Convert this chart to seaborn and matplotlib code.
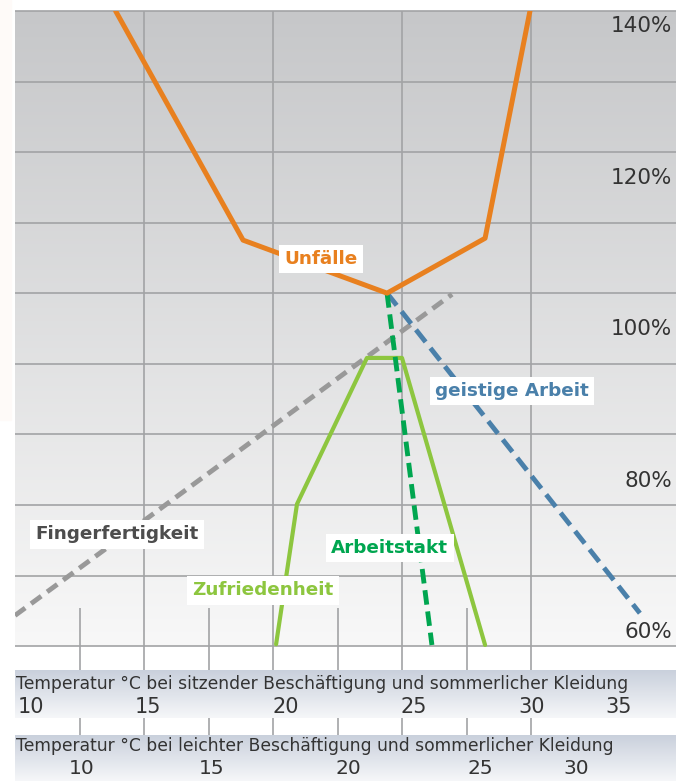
import matplotlib.pyplot as plt
import numpy as np
import seaborn as sns
from matplotlib.colors import to_rgb
from matplotlib.patches import Rectangle
from matplotlib.transforms import blended_transform_factory

# x = temperature (degC, sedentary work scale), y = relative value in %
unfaelle_x = [13.9, 18.84, 24.42, 28.22, 29.96]
unfaelle_y = [142.0, 111.75, 104.75, 112.0, 142.0]
geistig_x = [24.42, 34.22]
geistig_y = [104.75, 62.5]
takt_x = [24.42, 26.16]
takt_y = [104.75, 58.3]
zufrieden_x = [20.12, 20.93, 23.64, 25.0, 28.22]
zufrieden_y = [58.4, 76.9, 96.2, 96.2, 58.3]
finger_x = [10.0, 26.94]
finger_y = [62.2, 104.6]

pct_ticks = [140, 120, 100, 80, 60]
sitz_ticks = [10, 15, 20, 25, 30, 35]
leicht_ticks = [10, 15, 20, 25, 30]
sitz_title = "Temperatur °C bei sitzender Beschäftigung und sommerlicher Kleidung"
leicht_title = "Temperatur °C bei leichter Beschäftigung und sommerlicher Kleidung"

# where the tick numbers sit on the sedentary scale
sitz_pos = [10.1, 14.65, 20.0, 24.95, 29.5, 32.9]
leicht_pos = [12.6, 17.64, 22.91, 28.02, 31.74]


def gradient(c_top, c_bot, n=256):
    t = np.linspace(0, 1, n)[:, None, None]
    return (1 - t) * np.array(to_rgb(c_top)) + t * np.array(to_rgb(c_bot))


sns.set_style("white")
plt.rcParams["font.family"] = ["DejaVu Sans"]

fig = plt.figure(figsize=(6.86, 7.81), dpi=100)
fig.patches.append(Rectangle((0, 1 - 420 / 781), 11 / 686, 420 / 781,
                             transform=fig.transFigure, color="#fefaf8", zorder=-1))

x0, x1 = 10, 10 + 661 / 25.8
y_bot, y_top, grid_bot = 55, 142, 58.15
grid_col = "#a2a3a5"

ax = fig.add_axes([15 / 686, 111 / 781, 661 / 686, 659 / 781])
ax.imshow(gradient("#c6c7c9", "#f8f8f8"), extent=(x0, x1, grid_bot, y_top),
          aspect="auto", origin="upper", zorder=0)
ax.hlines(np.linspace(grid_bot, y_top, 10), x0, x1, color=grid_col, lw=1.2,
          zorder=1, clip_on=False)
ax.vlines([15, 20, 25, 30], y_bot, y_top, color=grid_col, lw=1.2, zorder=1)
ax.vlines([12.5, 17.5, 22.5, 27.5], y_bot, 63.17, color=grid_col, lw=1.2, zorder=1)

common = dict(ax=ax, sort=False, estimator=None, legend=False)
sns.lineplot(x=finger_x, y=finger_y, color="#999999", lw=3.5,
             linestyle=(0, (2.6, 1.5)), zorder=3, **common)
sns.lineplot(x=zufrieden_x, y=zufrieden_y, color="#8dc63f", lw=3.0, zorder=3, **common)
sns.lineplot(x=geistig_x, y=geistig_y, color="#4a80aa", lw=3.5,
             linestyle=(0, (3.2, 1.6)), zorder=4, **common)
sns.lineplot(x=takt_x, y=takt_y, color="#00a650", lw=3.5,
             linestyle=(0, (3.0, 1.4)), zorder=4, **common)
sns.lineplot(x=unfaelle_x, y=unfaelle_y, color="#e8801f", lw=3.6, zorder=5, **common)
ax.set_xlim(x0, x1)
ax.set_ylim(y_bot, y_top)
ax.axis("off")

box = dict(facecolor="white", edgecolor="none", boxstyle="square,pad=0.28")
labels = [
    ("Unfälle", 21.86, 109.3, "#e8801f"),
    ("geistige Arbeit", 29.26, 91.8, "#4a80aa"),
    ("Fingerfertigkeit", 13.95, 72.9, "#4d4d4d"),
    ("Zufriedenheit", 19.61, 65.5, "#8dc63f"),
    ("Arbeitstakt", 24.53, 71.1, "#00a650"),
]
for s, lx, ly, c in labels:
    ax.text(lx, ly, s, ha="center", va="center", fontsize=13.2, fontweight="bold",
            color=c, bbox=box, zorder=6)

trans = blended_transform_factory(ax.transAxes, ax.transData)
for v in pct_ticks:
    ax.text(0.994, v, f"{v}%", transform=trans, ha="right", va="center",
            fontsize=15.5, color="#333333", zorder=6)

# two temperature scales below the chart
axb = fig.add_axes([15 / 686, 0, 661 / 686, 111 / 781])
axb.imshow(gradient("#c9d0dc", "#f6f7f9"), extent=(x0, x1, 718, 670),
           aspect="auto", origin="upper", zorder=0)
axb.imshow(gradient("#c9d0dc", "#f6f7f9"), extent=(x0, x1, 781, 735),
           aspect="auto", origin="upper", zorder=0)
axb.set_xlim(x0, x1)
axb.set_ylim(781, 670)
axb.axis("off")
axb.vlines([12.5, 15, 17.5, 20, 22.5, 25, 27.5, 30], 718, 735, color=grid_col, lw=1.2)

axb.text(10.05, 684, sitz_title, ha="left", va="center", fontsize=12.3, color="#333333")
axb.text(10.05, 746, leicht_title, ha="left", va="center", fontsize=12.3, color="#333333")
for t, p in zip(sitz_ticks, sitz_pos):
    axb.text(p, 707, str(t), ha="left", va="center", fontsize=15, color="#333333")
for t, p in zip(leicht_ticks, leicht_pos):
    axb.text(p, 768.5, str(t), ha="center", va="center", fontsize=14.5, color="#333333")

fig.savefig("out.png", dpi=100)
